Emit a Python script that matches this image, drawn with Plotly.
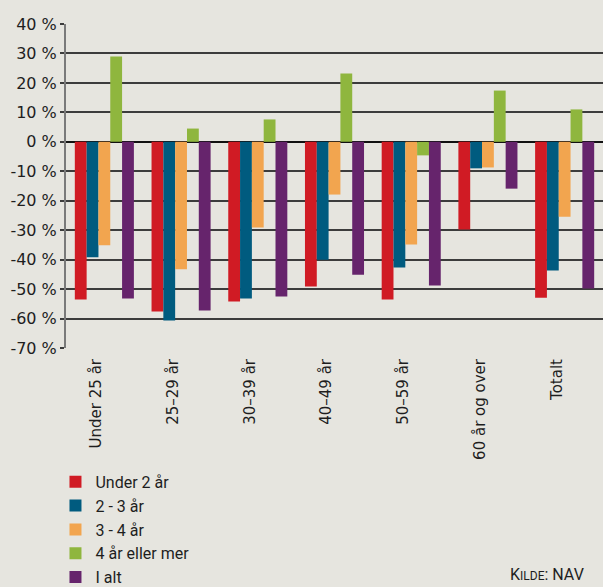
import plotly.graph_objects as go

CATEGORIES = ["Under 25 år", "25–29 år", "30–39 år", "40–49 år", "50–59 år", "60 år og over", "Totalt"]
SERIES_NAMES = ["Under 2 år", "2 - 3 år", "3 - 4 år", "4 år eller mer", "I alt"]
UNDER_2 = [-53.5, -57.6, -54.2, -49.1, -53.5, -29.8, -52.9]
Y2_3 = [-39.2, -60.7, -53.2, -40.0, -42.7, -9.0, -43.7]
Y3_4 = [-35.1, -43.3, -29.1, -17.9, -34.9, -8.7, -25.4]
Y4_PLUS = [29.0, 4.5, 7.6, 23.2, -4.6, 17.4, 11.0]
I_ALT = [-53.2, -57.3, -52.5, -45.1, -48.8, -15.9, -49.8]
Y_TICKS = [40, 30, 20, 10, 0, -10, -20, -30, -40, -50, -60, -70]
Y_TICK_LABELS = ["40 %", "30 %", "20 %", "10 %", "0 %", "-10 %", "-20 %", "-30 %",
                 "-40 %", "-50 %", "-60 %", "-70 %"]
COLORS = ["#d01b24", "#005b7f", "#f2a54f", "#8fb63e", "#66246c"]
SOURCE = "K<span style='font-size:12px'>ILDE</span>: NAV"

BG = "#e6e5df"
TXT = "#1e1e1e"

fig = go.Figure()
for i, (name, vals, col) in enumerate(zip(SERIES_NAMES, [UNDER_2, Y2_3, Y3_4, Y4_PLUS, I_ALT], COLORS)):
    fig.add_trace(go.Bar(x=CATEGORIES, y=vals, name=name, marker=dict(color=col, line=dict(width=0))))

fig.update_layout(
    width=603, height=587,
    margin=dict(l=66, r=0, t=24, b=239, autoexpand=False),
    paper_bgcolor=BG, plot_bgcolor=BG,
    barmode="group", bargap=0.23, bargroupgap=0,
    showlegend=True,
    legend=dict(orientation="v", xref="container", yref="container",
                x=0.092, y=0.208, xanchor="left", yanchor="top",
                font=dict(family="Roboto", size=16, color=TXT),
                bgcolor="rgba(0,0,0,0)", tracegroupgap=0, itemwidth=30),
    xaxis=dict(type="category", showgrid=False, zeroline=False, showline=False, ticks="",
               tickangle=-90, tickfont=dict(family="DejaVu Sans", size=15, color=TXT),
               ticklabelshift=-8, ticklabelstandoff=7, automargin=False),
    xaxis2=dict(overlaying="x", anchor="free", position=70 / 110, range=[-0.5, 6.5],
                tick0=0.5, dtick=1, ticks="outside", ticklen=4, tickwidth=1.5,
                tickcolor="#777", showticklabels=False, showgrid=False, zeroline=False,
                showline=False),
    yaxis=dict(range=[-70, 40], tickvals=Y_TICKS, ticktext=Y_TICK_LABELS,
               showgrid=True, gridcolor="#3c3c3c", gridwidth=1.6,
               zeroline=True, zerolinecolor="#111", zerolinewidth=1.8,
               showline=True, linecolor="#7a7a7a", linewidth=2,
               ticks="outside", ticklen=4, tickcolor="#3c3c3c", tickwidth=1.6,
               tickfont=dict(family="DejaVu Sans", size=16, color=TXT), automargin=False),
    annotations=[dict(text=SOURCE, xref="paper", yref="paper", x=0.968, y=-0.735,
                      xanchor="right", yanchor="bottom", showarrow=False,
                      font=dict(family="Roboto", size=16, color=TXT))],
)

fig.write_html("out.html", config={"displayModeBar": False},
               post_script="document.body.style.margin='0';")
